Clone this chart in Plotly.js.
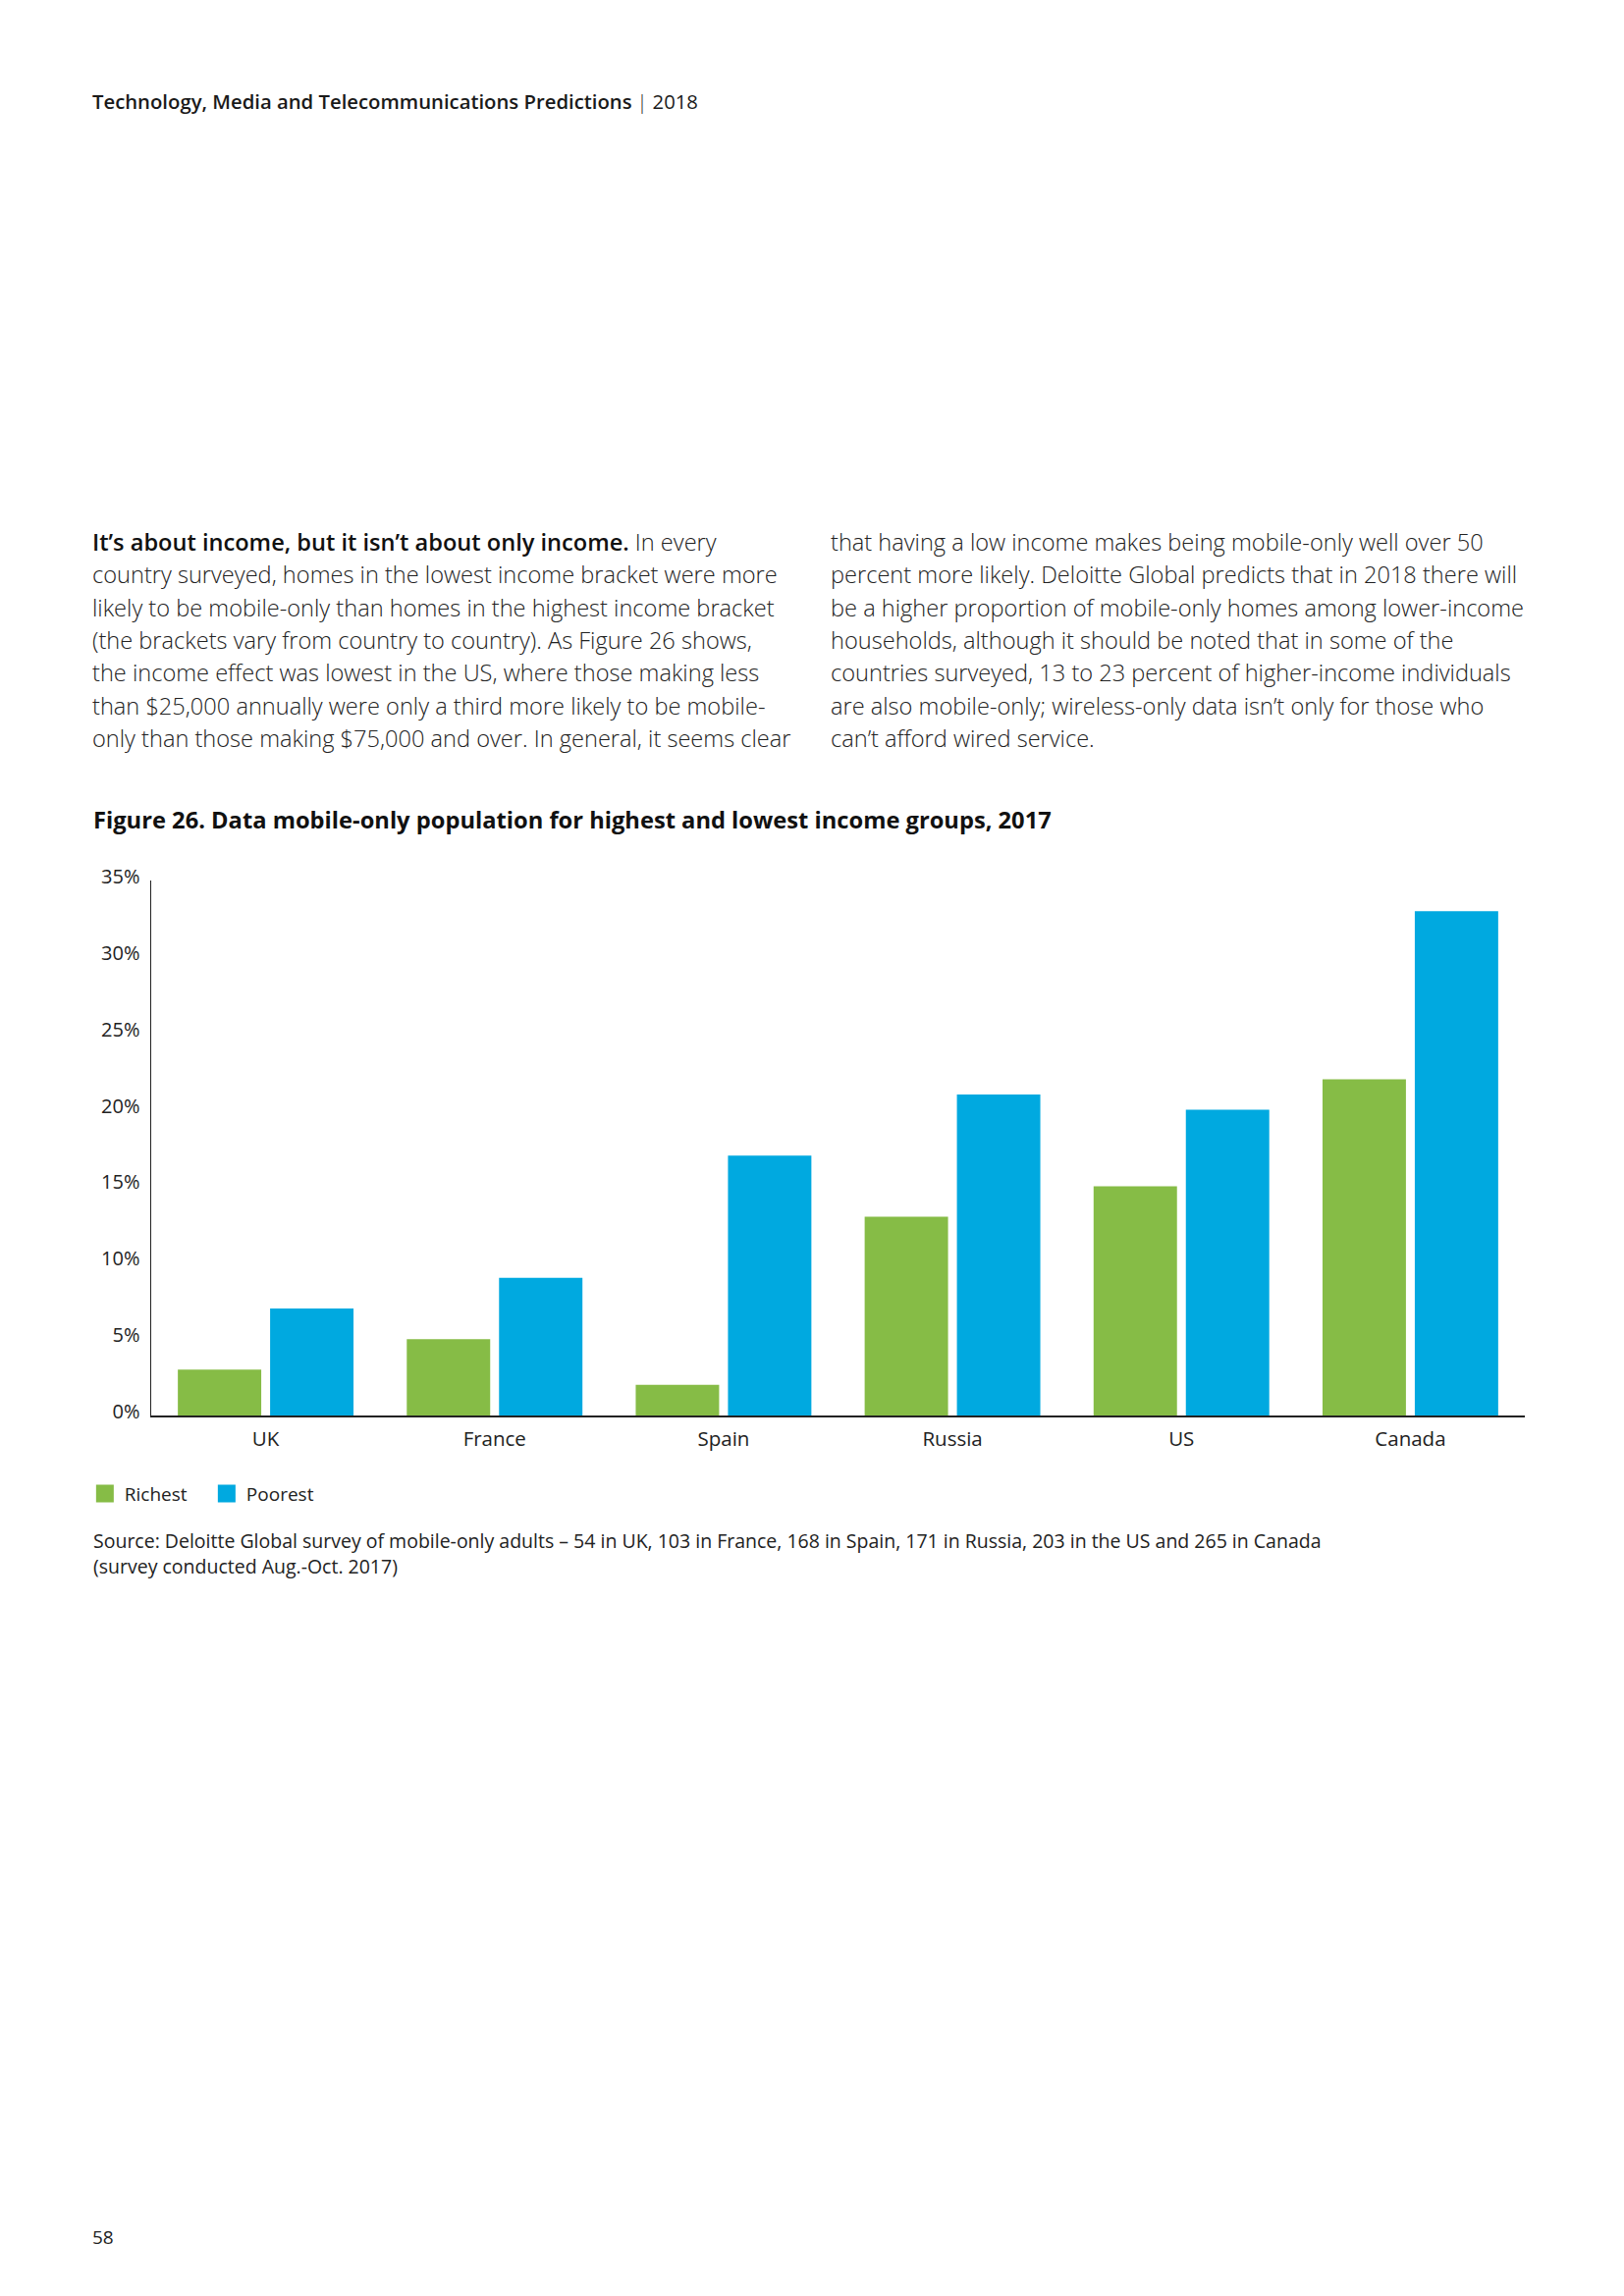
<!DOCTYPE html>
<html>
<head>
<meta charset="utf-8">
<script src="https://cdn.plot.ly/plotly-3.0.1.min.js"></script>
<style>
  html, body { margin: 0; padding: 0; background: #ffffff; }
  body { width: 1654px; height: 2339px; position: relative; overflow: hidden;
         font-family: "Open Sans", "DejaVu Sans", sans-serif; color: #1a1a1a; }
  .abs { position: absolute; white-space: nowrap; }
  #header { left: 94px; top: 88px; line-height: 30px; font-size: 20.3px; }
  #header b { font-weight: 600; }
  #header .sep { font-weight: 300; margin: 0 5px; }
  .col { top: 536px; line-height: 33.33px; font-size: 23.6px; font-weight: 300; color: #222; }
  .col b { font-weight: 600; color: #111; }
  #colL { left: 94px; }
  #colR { left: 846px; }
  #figtitle { left: 95px; top: 820px; line-height: 30px; font-size: 23.7px; font-weight: 700; color: #111; }
  #chart { position: absolute; left: 0px; top: 860px; width: 1654px; height: 720px; }
  #source { left: 95px; top: 1557px; line-height: 26px; font-size: 19.5px; color: #222; }
  #pagenum { left: 94px; top: 2266px; line-height: 26px; font-size: 19px; color: #222; }
</style>
</head>
<body>
<div id="header" class="abs"><b>Technology, Media and Telecommunications Predictions</b><span class="sep">|</span>2018</div>

<div id="colL" class="abs col"><b>It’s about income, but it isn’t about only income.</b> In every<br>country surveyed, homes in the lowest income bracket were more<br>likely to be mobile-only than homes in the highest income bracket<br>(the brackets vary from country to country). As Figure 26 shows,<br>the income effect was lowest in the US, where those making less<br>than $25,000 annually were only a third more likely to be mobile-<br>only than those making $75,000 and over. In general, it seems clear</div>

<div id="colR" class="abs col">that having a low income makes being mobile-only well over 50<br>percent more likely. Deloitte Global predicts that in 2018 there will<br>be a higher proportion of mobile-only homes among lower-income<br>households, although it should be noted that in some of the<br>countries surveyed, 13 to 23 percent of higher-income individuals<br>are also mobile-only; wireless-only data isn’t only for those who<br>can’t afford wired service.</div>

<div id="figtitle" class="abs">Figure 26. Data mobile-only population for highest and lowest income groups, 2017</div>

<div id="chart"></div>

<div id="source" class="abs">Source: Deloitte Global survey of mobile-only adults – 54 in UK, 103 in France, 168 in Spain, 171 in Russia, 203 in the US and 265 in Canada<br>(survey conducted Aug.-Oct. 2017)</div>

<div id="pagenum" class="abs">58</div>

<script>
// ---- data ----
var countries = ["UK", "France", "Spain", "Russia", "US", "Canada"];
var richest = [3, 5, 2, 13, 15, 22];
var poorest = [7, 9, 17, 21, 20, 33];
var seriesNames = ["Richest", "Poorest"];
var yTickValues = [0, 5, 10, 15, 20, 25, 30, 35];
var yTickLabels = ["0%", "5%", "10%", "15%", "20%", "25%", "30%", "35%"];

var GREEN = "#86BC46";
var BLUE = "#00A9E0";
var FONT = "Open Sans, DejaVu Sans, sans-serif";

var traces = [
  { type: "bar", name: seriesNames[0], x: countries, y: richest,
    marker: { color: GREEN }, hoverinfo: "x+y+name" },
  { type: "bar", name: seriesNames[1], x: countries, y: poorest,
    marker: { color: BLUE }, hoverinfo: "x+y+name" }
];

var layout = {
  width: 1654, height: 720,
  margin: { l: 154, r: 101, t: 37, b: 138, pad: 0 },
  paper_bgcolor: "#ffffff", plot_bgcolor: "#ffffff",
  font: { family: FONT, size: 20, color: "#222222" },
  barmode: "group",
  bargap: 0.194,
  bargroupgap: 0.096,
  showlegend: true,
  legend: {
    orientation: "h", x: -0.048, xanchor: "left", y: -0.146, yanchor: "middle",
    font: { family: FONT, size: 19, color: "#222222" },
    bgcolor: "rgba(0,0,0,0)", borderwidth: 0, traceorder: "normal",
    entrywidth: 79, entrywidthmode: "pixels"
  },
  xaxis: {
    type: "category", showline: true, linecolor: "#222222", linewidth: 1.5,
    ticks: "", showgrid: false, zeroline: false,
    tickfont: { family: FONT, size: 20.5, color: "#222222" },
    ticklabelstandoff: 5, fixedrange: true
  },
  yaxis: {
    range: [0, 35], tickmode: "array", tickvals: yTickValues, ticktext: yTickLabels,
    showline: true, linecolor: "#222222", linewidth: 1.5,
    ticks: "", showgrid: false, zeroline: false,
    tickfont: { family: FONT, size: 20, color: "#222222" },
    ticklabelstandoff: 6, fixedrange: true
  }
};

Plotly.newPlot("chart", traces, layout, { displayModeBar: false, staticPlot: true }).then(function () {
  // slightly larger legend swatches, like the reference
  document.querySelectorAll("#chart .legendpoints path").forEach(function (p) {
    p.setAttribute("d", "M9,9H-9V-9H9Z");
  });
  // the reference sets its y tick labels a few pixels above their values
  document.querySelectorAll("#chart .yaxislayer-above").forEach(function (g) {
    g.setAttribute("transform", "translate(0,-4)");
  });
});
</script>
</body>
</html>
